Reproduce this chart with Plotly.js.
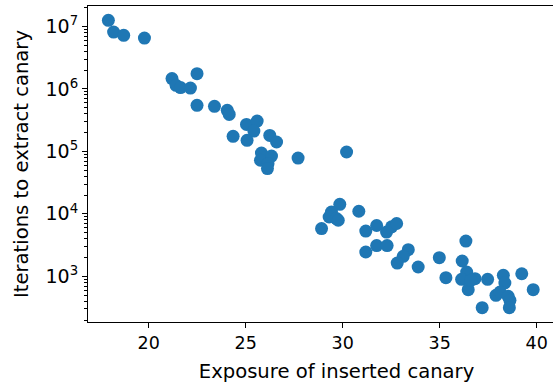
<!DOCTYPE html>
<html>
<head>
<meta charset="utf-8">
<script src="https://cdn.plot.ly/plotly-3.0.1.min.js"></script>
<style>
html,body{margin:0;padding:0;overflow:hidden;background:#fff;}
#wrap{width:553px;height:383px;overflow:hidden;}
#chart{width:600px;height:383px;}
</style>
</head>
<body>
<div id="wrap"><div id="chart"></div></div>
<script>
const exposure = [
  17.92, 18.19, 18.71, 19.78, 21.20, 21.41, 21.64, 22.15, 22.49, 22.49,
  23.39, 24.05, 24.15, 25.04, 25.59, 25.42, 24.35, 25.07, 26.24, 26.59,
  25.81, 26.33, 25.76, 26.15, 26.12, 27.70, 30.20, 29.85, 29.42, 29.30,
  29.68, 29.77, 28.91, 30.83, 31.19, 31.75, 32.26, 32.52, 32.78, 31.19,
  31.75, 32.29, 33.38, 33.12, 32.81, 33.89, 34.98, 35.32, 36.35, 36.16,
  36.39, 36.13, 36.82, 36.47, 36.60, 37.47, 37.19, 38.28, 38.36, 37.90,
  38.11, 38.53, 38.62, 38.59, 39.23, 39.82
];
const iterations = [
  1.25e7, 8.1e6, 7.2e6, 6.5e6, 1.46e6, 1.14e6, 1.05e6, 1.03e6, 1.75e6, 5.45e5,
  5.25e5, 4.53e5, 3.9e5, 2.7e5, 3.05e5, 2.11e5, 1.74e5, 1.5e5, 1.8e5, 1.41e5,
  9.4e4, 8.4e4, 7.2e4, 6.35e4, 5.3e4, 7.8e4, 9.76e4, 1.42e4, 1.07e4, 8.9e3,
  8.4e3, 7.9e3, 5.8e3, 1.1e4, 5.3e3, 6.5e3, 5.1e3, 6.2e3, 7.0e3, 2.45e3,
  3.1e3, 3.1e3, 2.67e3, 2.09e3, 1.63e3, 1.41e3, 1.99e3, 953, 3.67e3, 1.76e3,
  1.17e3, 896, 918, 612, 863, 896, 315, 1.04e3, 782, 496,
  561, 479, 413, 315, 1.1e3, 612
];
const xTickVals = [20, 25, 30, 35, 40];
const yTickVals = [1e3, 1e4, 1e5, 1e6, 1e7];
const yTickText = ["10<sup>3</sup>", "10<sup>4</sup>", "10<sup>5</sup>", "10<sup>6</sup>", "10<sup>7</sup>"];
const minorMantissas = [2, 3, 4, 5, 6, 7, 8, 9];
const minorDecades = [1e2, 1e3, 1e4, 1e5, 1e6, 1e7];
const xTitle = "Exposure of inserted canary";
const yTitle = "Iterations to extract canary";

const yMinorVals = [];
minorDecades.forEach(d => minorMantissas.forEach(m => yMinorVals.push(m * d)));

const font = "DejaVu Sans, sans-serif";
Plotly.newPlot("chart", [{
  type: "scatter",
  mode: "markers",
  x: exposure,
  y: iterations,
  marker: {color: "#1f77b4", size: 13, line: {width: 0}},
  hoverinfo: "x+y"
}], {
  width: 600, height: 383,
  margin: {l: 88, r: 15, t: 6, b: 61, pad: 0},
  paper_bgcolor: "#fff", plot_bgcolor: "#fff",
  showlegend: false,
  font: {family: font, color: "#000"},
  xaxis: {
    range: [16.87, 42.49],
    tickvals: xTickVals,
    ticktext: xTickVals.map(String),
    ticks: "outside", ticklen: 5, tickwidth: 1, tickcolor: "#000",
    showline: true, linecolor: "#000", linewidth: 1, mirror: true,
    showgrid: false, zeroline: false,
    tickfont: {family: font, size: 17.5, color: "#000"},
    title: {text: xTitle, font: {family: font, size: 19.6, color: "#000"}, standoff: 13}
  },
  yaxis: {
    type: "log",
    range: [2.269, 7.326],
    tickvals: yTickVals,
    ticktext: yTickText,
    ticks: "outside", ticklen: 5, tickwidth: 1, tickcolor: "#000",
    minor: {tickvals: yMinorVals, ticks: "outside", ticklen: 3, tickwidth: 1, tickcolor: "#000", showgrid: false},
    showline: true, linecolor: "#000", linewidth: 1, mirror: false,
    showgrid: false, zeroline: false,
    tickfont: {family: font, size: 19, color: "#000"},
    title: {text: yTitle, font: {family: font, size: 19.6, color: "#000"}, standoff: 11}
  }
}, {displayModeBar: false, staticPlot: true});
</script>
</body>
</html>
